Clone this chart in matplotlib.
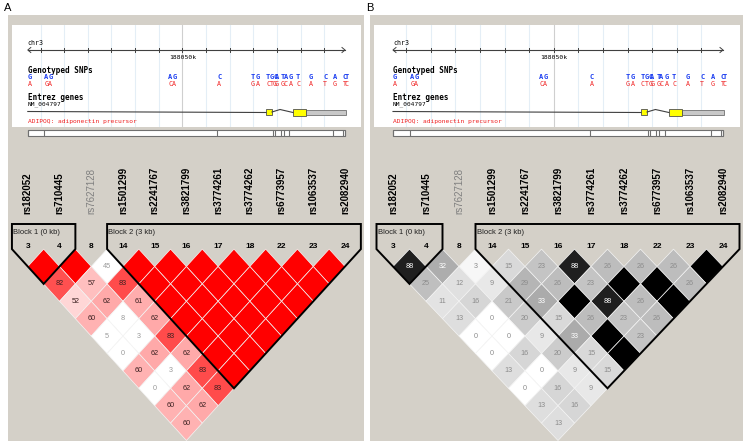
import matplotlib.pyplot as plt
from matplotlib.patches import Polygon, Rectangle, ConnectionPatch

plt.rcParams['font.family'] = ['Liberation Sans', 'DejaVu Sans']

# markers shown in the LD plot
markers = ['rs182052', 'rs710445', 'rs7627128', 'rs1501299', 'rs2241767', 'rs3821799',
           'rs3774261', 'rs3774262', 'rs6773957', 'rs1063537', 'rs2082940']
marker_ids = [3, 4, 8, 14, 15, 16, 17, 18, 22, 23, 24]
marker_bp = [188043460, 188044157, 188051469, 188053836, 188053921, 188054174,
             188054280, 188054512, 188056372, 188056782, 188056879]
blocks = [(0, 1, 'Block 1 (0 kb)'), (3, 10, 'Block 2 (3 kb)')]

# all genotyped SNPs in the browser track
snp_bp = [188043460, 188044157, 188044326, 188049398, 188049567, 188051469, 188052906,
          188053118, 188053540, 188053709, 188053836, 188053921, 188054174, 188054280,
          188054512, 188054808, 188055358, 188055949, 188056372, 188056782, 188056879]
snp_top = ['G', 'A', 'G', 'A', 'G', 'C', 'T', 'G', 'T', 'G', 'C', 'A', 'T', 'A',
           'G', 'T', 'G', 'C', 'A', 'C', 'T']
snp_bottom = ['A', 'G', 'A', 'C', 'A', 'A', 'G', 'A', 'C', 'T', 'G', 'G', 'G', 'C',
              'A', 'C', 'A', 'T', 'G', 'T', 'C']

# ADIPOQ gene model
exon1 = (188053540, 188053790)
intron_peak = 188054130
exon2 = (188054680, 188055230)
utr3 = (188055230, 188056920)

# pairwise values, one list per marker distance k (pairs i, i+k)
dprime = [
    [100, 100, 45, 100, 100, 100, 100, 100, 100, 100],
    [82, 57, 83, 100, 100, 100, 100, 100, 100],
    [52, 62, 61, 100, 100, 100, 100, 100],
    [60, 8, 62, 100, 100, 100, 100],
    [5, 3, 83, 100, 100, 100],
    [0, 62, 62, 100, 100],
    [60, 3, 83, 100],
    [0, 62, 83],
    [60, 62],
    [60],
]
rsq = [
    [88, 32, 3, 15, 23, 88, 26, 26, 26, 100],
    [25, 12, 9, 29, 26, 23, 100, 100, 26],
    [11, 16, 21, 33, 100, 88, 26, 100],
    [13, 0, 20, 15, 26, 23, 26],
    [0, 0, 9, 33, 100, 23],
    [0, 16, 20, 15, 100],
    [13, 0, 9, 15],
    [0, 16, 9],
    [13, 16],
    [13],
]

W, H = 750, 444
ROW1, ROWH = 266.5, 17.4
GRAY = '#d4d0c8'
MONO = 'DejaVu Sans Mono'

fig = plt.figure(figsize=(7.5, 4.44), dpi=100)


def fbox(x0, y0, x1, y1):
    return [x0 / W, 1 - y1 / H, (x1 - x0) / W, (y1 - y0) / H]


def row_of(py):
    return 1 + (py - ROW1) / ROWH


def dprime_style(v):
    if v >= 100:
        return '#ff0000', None
    if v < 50:
        return 'white', '#9a9a9a'
    g = min(255, int(2 * 223 * (1 - v / 100))) / 255
    return (1, g, g), '#3a2020'


def rsq_style(v):
    g = 1 - v / 100
    if v >= 100:
        return (g, g, g), None
    return (g, g, g), ('white' if v >= 30 else '#8c8c8c')


def draw_panel(L, R, bx0, bx1, m0, m10, values, style, letter):
    n = len(markers)
    bg = fig.add_axes(fbox(L, 15, R, 441))
    bg.set_facecolor(GRAY)
    bg.set_xticks([])
    bg.set_yticks([])
    for sp in bg.spines.values():
        sp.set_visible(False)
    fig.text((L - 4) / W, 1 - 8 / H, letter, fontsize=8, va='center')

    # ---- genome browser ----
    k = (m10 - m0) / (marker_bp[-1] - marker_bp[0])
    ab = fig.add_axes(fbox(bx0, 25, bx1, 127))
    ab.set_xlim(marker_bp[0] + (bx0 - m0) / k, marker_bp[0] + (bx1 - m0) / k)
    ab.set_ylim(127, 25)
    ab.set_xticks([])
    ab.set_yticks([])
    for sp in ab.spines.values():
        sp.set_visible(False)
    first, last = marker_bp[0], marker_bp[-1]
    px = 1 / k
    kbs = range(int(first // 1000) + 1, int(last // 1000) + 1)
    for kb in kbs:
        ab.axvline(kb * 1000, color='#cfcfcf' if kb == 188050 else '#e4eef6', lw=0.8, zorder=0)
        ab.plot([kb * 1000] * 2, [48, 52], color='#404040', lw=0.7)
    ab.plot([first, last], [50, 50], color='#404040', lw=0.8)
    ab.plot([first + 3 * px, first, first + 3 * px], [47.5, 50, 52.5], color='#404040', lw=0.7)
    ab.plot([last - 3 * px, last, last - 3 * px], [47.5, 50, 52.5], color='#404040', lw=0.7)
    ab.text(first, 43, 'chr3', family=MONO, fontsize=4.8, va='center')
    ab.text(188050000, 57.5, '188050k', family=MONO, fontsize=4.6, ha='center', va='center')
    ab.text(first, 70, 'Genotyped SNPs', family=MONO, fontsize=5.5, fontweight='bold', va='center')
    for pos, a1, a2 in zip(snp_bp, snp_top, snp_bottom):
        ab.text(pos, 77, a1, family=MONO, fontsize=5, fontweight='bold', color='#1a3cf0', va='center')
        ab.text(pos, 83.5, a2, family=MONO, fontsize=4.8, color='#f02020', va='center')
    ab.text(first, 97, 'Entrez genes', family=MONO, fontsize=5.5, fontweight='bold', va='center')
    ab.text(first, 104.5, 'NM_004797', family=MONO, fontsize=4.4, va='center')
    ab.plot([first, exon1[0]], [111.5, 112.5], color='#404040', lw=0.8)
    ab.plot([exon1[1], intron_peak, exon2[0]], [112, 109.5, 112.5], color='#404040', lw=0.8)
    ab.add_patch(Rectangle((exon1[0], 109), exon1[1] - exon1[0], 6, fc='#ffff00', ec='#505050', lw=0.6))
    ab.add_patch(Rectangle((utr3[0], 109.5), utr3[1] - utr3[0], 5, fc='#c8c8c8', ec='#707070', lw=0.6))
    ab.add_patch(Rectangle((exon2[0], 108.5), exon2[1] - exon2[0], 7, fc='#ffff00', ec='#505050', lw=0.6))
    ab.text(first, 121, 'ADIPOQ: adiponectin precursor', family=MONO, fontsize=4.5,
            color='#f02020', va='center')

    # marker strip below the browser
    ab.add_patch(Rectangle((first, 130), last - first, 6, fc='white', ec='#707070', lw=0.8,
                           clip_on=False))
    ab.vlines(marker_bp, 130, 136, color='#707070', lw=0.8, clip_on=False)

    # ---- LD plot ----
    s = (m10 - m0) / (n - 1)
    al = fig.add_axes(fbox(L, 140, R, 441))
    al.set_xlim((L - m0) / s, (R - m0) / s)
    al.set_ylim(row_of(441), row_of(140))
    al.axis('off')

    in_block = set()
    for a, b, _ in blocks:
        in_block.update(range(a, b + 1))

    for i, (name, mid, pos) in enumerate(zip(markers, marker_ids, marker_bp)):
        con = ConnectionPatch(xyA=(pos, 136), coordsA='data', axesA=ab,
                              xyB=(i, row_of(165)), coordsB='data', axesB=al,
                              color='#8a8a8a', lw=0.7)
        fig.add_artist(con)
        bold = i in in_block
        al.text(i, row_of(214), name, rotation=90, ha='center', va='bottom', fontsize=7,
                fontweight='bold' if bold else 'normal', color='black' if bold else '#808080')
        al.text(i, row_of(247), str(mid), ha='center', va='center', fontsize=6, fontweight='bold')

    for kk, row in enumerate(values, start=1):
        for i, v in enumerate(row):
            cx = i + kk / 2
            face, tc = style(v)
            al.add_patch(Polygon([(cx - 0.5, kk), (cx, kk - 1), (cx + 0.5, kk), (cx, kk + 1)],
                                 closed=True, fc=face, ec='#f4f4f4', lw=0.5))
            if tc:
                al.text(cx, kk, str(v), ha='center', va='center', fontsize=5.2, color=tc)

    top = row_of(224)
    for a, b, label in blocks:
        al.add_patch(Polygon([(a - 0.5, top), (a - 0.5, 0), ((a + b) / 2, b - a + 1),
                              (b + 0.5, 0), (b + 0.5, top)], closed=True, fill=False,
                             ec='black', lw=1.4, zorder=3))
        al.text(a - 0.5 + 1.2 / s, row_of(232), label, ha='left', va='center', fontsize=5.5,
                color='#202020')


draw_panel(8, 364, 12, 361, 27.8, 345, dprime, dprime_style, 'A')
draw_panel(370, 743, 374, 740, 393, 723, rsq, rsq_style, 'B')

fig.savefig('out.png', dpi=100)
